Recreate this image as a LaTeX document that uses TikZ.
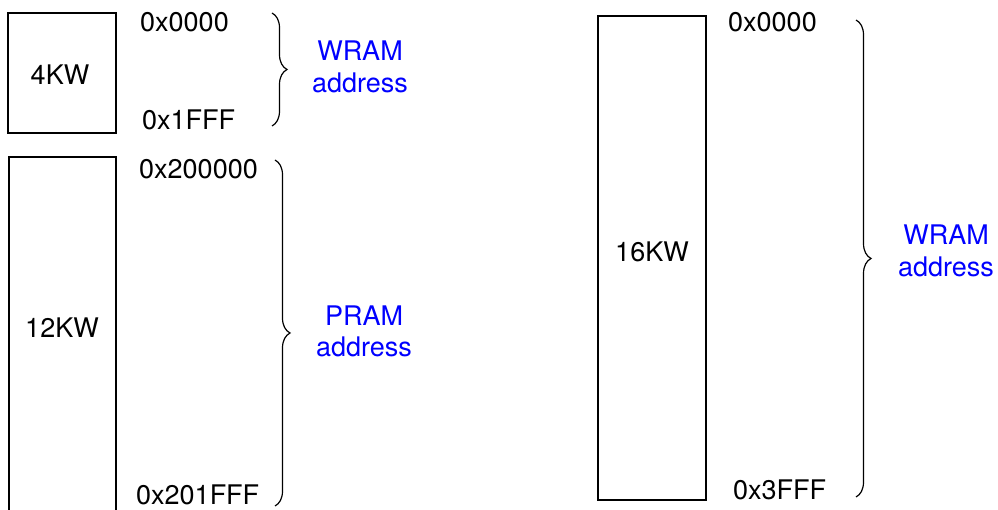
\documentclass[tikz,border=0pt]{standalone}
\usepackage{fontspec}
\setmainfont{TeX Gyre Heros}
\usetikzlibrary{decorations.pathreplacing}
\begin{document}
\begin{tikzpicture}[x=1pt,y=1pt,
  membox/.style={draw=black,line width=1.4pt,fill=none},
  addr/.style={font=\fontsize{27}{32}\selectfont,inner sep=0pt,anchor=base west},
  boxlabel/.style={font=\fontsize{27}{32}\selectfont,inner sep=0pt,anchor=base},
  bluelabel/.style={font=\fontsize{27}{32}\selectfont,inner sep=0pt,anchor=base,text=blue},
  bracebar/.style={decorate,decoration={brace,amplitude=15pt},line width=1.2pt}]
\clip (0,0) rectangle (998,510);
\fill[white] (0,0) rectangle (998,510);
% boxes
\draw[membox] (8,497) rectangle (116,377);
\draw[membox] (9,353) rectangle (116,-30);
\draw[membox] (598,494) rectangle (706,10);
\node[boxlabel] (k4) at (60,425) {4KW};
\node[boxlabel] (k12) at (62,172) {12KW};
\node[boxlabel] (k16) at (652,248) {16KW};
% addresses
\node[addr] (a1) at (140,478) {0x0000};
\node[addr] (a2) at (142,380) {0x1FFF};
\node[addr] (a3) at (139,331) {0x200000};
\node[addr] (a4) at (136,5) {0x201FFF};
\node[addr] (a5) at (728,478) {0x0000};
\node[addr] (a6) at (733,10) {0x3FFF};
% braces
\coordinate (b1t) at (272,497);
\coordinate (b1b) at (272,384);
\coordinate (b2t) at (275,350);
\coordinate (b2b) at (275,4);
\coordinate (b3t) at (856,490);
\coordinate (b3b) at (856,13);
\draw[bracebar] (b1t) -- (b1b);
\draw[bracebar] (b2t) -- (b2b);
\draw[bracebar] (b3t) -- (b3b);
% blue labels
\node[bluelabel] (w1a) at (360,449) {WRAM};
\node[bluelabel] (w1b) at (360,417) {address};
\node[bluelabel] (p1a) at (364,184) {PRAM};
\node[bluelabel] (p1b) at (364,153) {address};
\node[bluelabel] (w2a) at (946,265) {WRAM};
\node[bluelabel] (w2b) at (946,233) {address};
\end{tikzpicture}
\end{document}
